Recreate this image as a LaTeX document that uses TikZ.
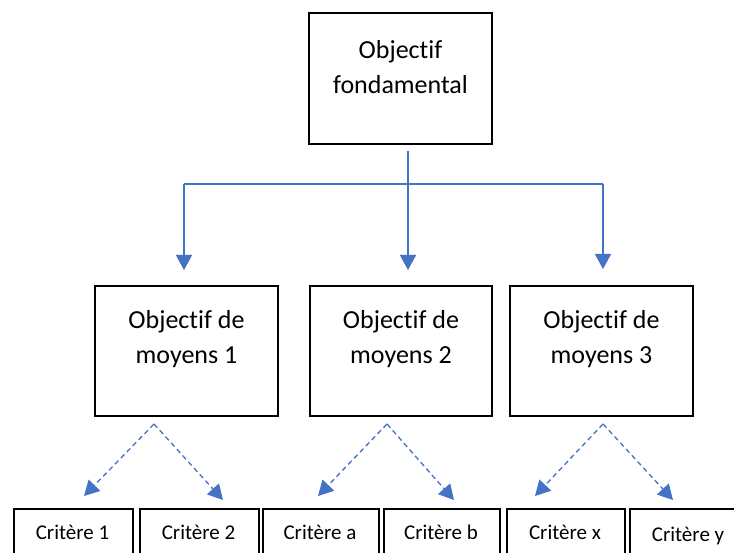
\documentclass[tikz,border=0pt]{standalone}
\usepackage{fontspec}
\setmainfont{Carlito}[RawFeature={-liga}]
\usetikzlibrary{arrows.meta}
\definecolor{arrblue}{HTML}{4472C4}
\tikzset{
  box/.style={draw=black, line width=2.2pt, inner sep=0pt},
  bigtxt/.style={align=center, font=\fontsize{26}{35}\selectfont, inner sep=0pt},
  smalltxt/.style={font=\fontsize{21}{25}\selectfont, inner sep=0pt, anchor=base},
  solidarrow/.style={draw=arrblue, line width=1.6pt, -{Triangle[width=16pt,length=15pt]}},
  plainline/.style={draw=arrblue, line width=1.6pt},
  dasharrow/.style={draw=arrblue, line width=1.3pt, dash pattern=on 5pt off 3.5pt, -{Triangle[width=16pt,length=15pt]}},
}
\begin{document}
\begin{tikzpicture}[x=1pt,y=-1pt]
\path[use as bounding box, clip] (0,0) rectangle (734,553);
\fill[white] (0,0) rectangle (734,553);
% top box
\node[box, minimum width=183pt, minimum height=131pt] (top) at (400.5,78.5) {};
\node[bigtxt] (toptxt) at (400.5,67) {Objectif\\fondamental};
% middle boxes
\node[box, minimum width=183pt, minimum height=130pt] (m1) at (186.5,351) {};
\node[box, minimum width=182pt, minimum height=130pt] (m2) at (401,351) {};
\node[box, minimum width=183pt, minimum height=130pt] (m3) at (601.5,351) {};
\node[bigtxt] (m1t) at (186.5,339) {Objectif de\\moyens 1};
\node[bigtxt] (m2t) at (401,339) {Objectif de\\moyens 2};
\node[bigtxt] (m3t) at (601.5,339) {Objectif de\\moyens 3};
% bottom boxes
\node[box, minimum width=119pt, minimum height=70pt, anchor=north west] (c1) at (13,508) {};
\node[box, minimum width=119pt, minimum height=70pt, anchor=north west] (c2) at (139,508) {};
\node[box, minimum width=116pt, minimum height=70pt, anchor=north west] (ca) at (262,508) {};
\node[box, minimum width=116pt, minimum height=70pt, anchor=north west] (cb) at (383,508) {};
\node[box, minimum width=118pt, minimum height=70pt, anchor=north west] (cx) at (506,508) {};
\node[box, minimum width=118pt, minimum height=70pt, anchor=north west] (cy) at (629,508) {};
\node[smalltxt] (c1t) at (72.5,539) {Critère 1};
\node[smalltxt] (c2t) at (198.5,539) {Critère 2};
\node[smalltxt] (cat) at (320,539) {Critère a};
\node[smalltxt] (cbt) at (441,539) {Critère b};
\node[smalltxt] (cxt) at (565,539) {Critère x};
\node[smalltxt] (cyt) at (688,541) {Critère y};
% solid connectors
\coordinate (s0) at (408,151);
\coordinate (hub) at (408,184);
\coordinate (hl) at (184,184);
\coordinate (hr) at (603,184);
\coordinate (e1) at (184,270);
\coordinate (e2) at (408,270);
\coordinate (e3) at (603,269);
\draw[plainline] (s0) -- (hub);
\draw[plainline] (hl) -- (hr);
\draw[solidarrow] (hl) -- (e1);
\draw[solidarrow] (hub) -- (e2);
\draw[solidarrow] (hr) -- (e3);
% dashed connectors
\coordinate (d1) at (154,424);
\coordinate (d2) at (387,424);
\coordinate (d3) at (603,424);
\coordinate (t1) at (84,496);
\coordinate (t2) at (223,500);
\coordinate (ta) at (318,496);
\coordinate (tb) at (454,500);
\coordinate (tx) at (535,496);
\coordinate (ty) at (673,500);
\draw[dasharrow] (d1) -- (t1);
\draw[dasharrow] (d1) -- (t2);
\draw[dasharrow] (d2) -- (ta);
\draw[dasharrow] (d2) -- (tb);
\draw[dasharrow] (d3) -- (tx);
\draw[dasharrow] (d3) -- (ty);
\end{tikzpicture}
\end{document}
